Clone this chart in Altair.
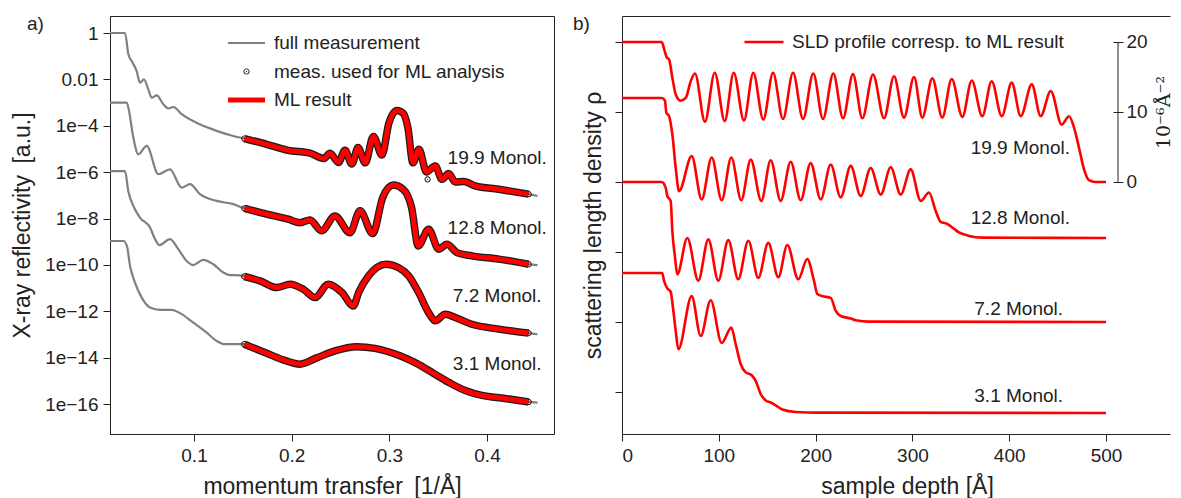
import altair as alt
import pandas as pd

FONT = "Liberation Sans"
INK = "#222222"

# ======================= panel a) : X-ray reflectivity =======================
# q = momentum transfer [1/Å]; L = log10 of the plotted (vertically offset) reflectivity
curve_names = ["19.9 Monol.", "12.8 Monol.", "7.2 Monol.", "3.1 Monol."]

# low-q part of the full measurement (grey)
a199_grey_q = [0.014, 0.0294, 0.0328, 0.0362, 0.0413, 0.0447, 0.0488, 0.0532, 0.0567, 0.0618, 0.0686, 0.0737, 0.0788, 0.0874, 0.1061, 0.1232, 0.1402]
a199_grey_L = [0.0, 0.0, -0.92, -1.21, -1.64, -2.14, -2.0, -2.43, -2.79, -2.69, -3.07, -3.25, -3.19, -3.5, -3.94, -4.22, -4.44]
a128_grey_q = [0.014, 0.0311, 0.0335, 0.0376, 0.043, 0.0516, 0.0635, 0.0754, 0.0874, 0.0959, 0.1061, 0.1232, 0.1402]
a128_grey_L = [-3.0, -3.0, -3.36, -4.44, -5.23, -4.87, -6.09, -5.88, -6.67, -6.52, -6.95, -7.24, -7.38]
a72_grey_q = [0.014, 0.0294, 0.0327, 0.0379, 0.0447, 0.055, 0.0601, 0.0646, 0.0754, 0.0839, 0.0925, 0.0993, 0.1095, 0.1198, 0.13, 0.1369, 0.1465]
a72_grey_L = [-5.96, -5.96, -6.81, -7.46, -7.96, -8.39, -8.89, -9.15, -8.89, -9.32, -9.83, -10.01, -9.78, -9.97, -10.33, -10.44, -10.45]
a31_grey_q = [0.014, 0.0278, 0.0313, 0.0345, 0.0396, 0.0465, 0.055, 0.0652, 0.0772, 0.0857, 0.0993, 0.113, 0.1232, 0.1317, 0.1465]
a31_grey_L = [-8.97, -8.97, -9.18, -10.04, -10.76, -11.41, -11.84, -11.94, -11.94, -12.08, -12.49, -12.92, -13.28, -13.42, -13.42]

# range used for the ML analysis (measured points and ML result)
a199_fit_q = [0.1515, 0.1744, 0.1962, 0.2187, 0.2331, 0.2392, 0.2479, 0.2546, 0.2617, 0.2679, 0.2753, 0.2837, 0.2924, 0.2996, 0.3078, 0.3144, 0.319, 0.3242, 0.3303, 0.338, 0.347, 0.3539, 0.3607, 0.3675, 0.3761, 0.3879, 0.4119, 0.4426]
a199_fit_L = [-4.55, -4.80, -5.06, -5.18, -5.41, -5.19, -5.58, -5.06, -5.65, -4.94, -5.60, -4.46, -5.26, -3.88, -3.34, -3.47, -4.09, -5.60, -5.01, -5.99, -5.73, -6.31, -6.06, -6.42, -6.40, -6.59, -6.74, -6.95]
a128_fit_q = [0.1515, 0.1744, 0.1965, 0.2085, 0.2187, 0.2307, 0.2443, 0.2597, 0.27, 0.283, 0.2932, 0.304, 0.3142, 0.3228, 0.3296, 0.3402, 0.3505, 0.359, 0.3692, 0.3845, 0.4119, 0.4426]
a128_fit_L = [-7.56, -7.81, -8.03, -8.18, -8.06, -8.53, -7.89, -8.61, -7.67, -8.65, -7.10, -6.56, -6.74, -7.53, -9.18, -8.46, -9.32, -9.11, -9.47, -9.61, -9.75, -9.97]
a72_fit_q = [0.1515, 0.1676, 0.1847, 0.1983, 0.2119, 0.2239, 0.2375, 0.2515, 0.2631, 0.2686, 0.2788, 0.2965, 0.3096, 0.3198, 0.33, 0.3402, 0.347, 0.3573, 0.3675, 0.3845, 0.4119, 0.4426]
a72_fit_L = [-10.50, -10.69, -10.98, -10.83, -11.05, -11.41, -10.83, -11.19, -11.77, -11.19, -10.47, -9.97, -10.12, -10.47, -11.19, -12.06, -12.41, -12.13, -12.27, -12.56, -12.77, -12.94]
a31_fit_q = [0.1515, 0.1744, 0.1931, 0.2085, 0.2256, 0.2443, 0.2666, 0.2853, 0.3108, 0.3279, 0.3446, 0.362, 0.3784, 0.3948, 0.4184, 0.4426]
a31_fit_L = [-13.42, -13.81, -14.12, -14.28, -14.01, -13.71, -13.53, -13.60, -13.92, -14.25, -14.66, -15.09, -15.43, -15.63, -15.76, -15.91]

# last point of the full measurement and a measured point off the fit
a_tail_q = 0.4518
a_tail_L = [-7.03, -10.01, -12.99, -15.94]
a199_extra_q = [0.3392]
a199_extra_L = [-6.31]

# curve labels
a_label_q = [0.4613, 0.4613, 0.4559, 0.4559]
a_label_L = [-5.39, -8.39, -11.34, -14.28]

a_xticks = [0.1, 0.2, 0.3, 0.4]
a_yticks = [1, 1e-2, 1e-4, 1e-6, 1e-8, 1e-10, 1e-12, 1e-14, 1e-16]
a_series = ["full measurement", "meas. used for ML analysis", "ML result"]

# ======================= panel b) : SLD profiles =======================
b_offsets = [0, -8, -20, -33]
b199_z = [0, 41, 44.1, 46.2, 48.6, 52, 55.5, 60.6, 65.8, 71, 75.4, 85.7, 95.8, 106.1, 115.4, 126, 135.6, 146, 156, 166.3, 176.7, 187, 197.6, 207.6, 218.3, 228.3, 238.6, 248.3, 259.3, 270.7, 281, 291.3, 301.7, 310.2, 320.6, 330.9, 340.6, 351.6, 361.3, 372.2, 381.9, 392.3, 402.6, 411.9, 423.3, 432.5, 442.9, 454.2, 461.8, 466.9, 472.1, 477.3, 482.4, 489, 500]
b199_v = [20, 20, 18.7, 17.8, 17.5, 14.9, 12.5, 11.6, 12.0, 14.4, 15.5, 8.6, 15.6, 8.7, 15.6, 8.8, 15.6, 8.9, 15.6, 9.0, 15.6, 9.0, 15.5, 9.0, 15.5, 9.1, 15.4, 9.1, 15.35, 9.1, 15.1, 9.2, 15.0, 9.2, 14.8, 9.2, 14.7, 9.3, 14.5, 9.4, 14.4, 9.4, 14.2, 9.4, 13.95, 9.4, 13.0, 8.2, 9.4, 7.8, 4.9, 1.8, 0.25, 0.0, 0.0]
b128_z = [0, 41, 44.4, 45.8, 48.6, 52, 55.5, 58.9, 72.0, 82.3, 92.7, 103.0, 112.9, 123.2, 133.0, 143.9, 153.6, 163.9, 174.3, 184.6, 194.9, 205.3, 215.6, 225.9, 236.3, 246.6, 256.9, 267.3, 277.6, 287.9, 298.2, 308.6, 317.1, 324, 329.2, 336, 341.2, 348.1, 358.5, 372.2, 500]
b128_v = [20, 20, 19.6, 17.9, 17.4, 14.8, 10.0, 6.7, 11.7, 5.5, 11.5, 5.4, 11.5, 5.4, 11.2, 5.3, 11.1, 5.3, 10.9, 5.4, 10.7, 5.5, 10.5, 5.8, 10.3, 6.0, 10.0, 6.2, 10.1, 6.2, 9.8, 5.3, 6.5, 3.9, 2.3, 2.0, 1.5, 0.8, 0.3, 0.05, 0.0]
b72_z = [0, 41, 45.1, 46.8, 50.3, 52, 54.8, 57.1, 67.5, 78.8, 89.2, 99.5, 109.8, 120.1, 130.5, 140.8, 151.1, 161.5, 170.8, 182.1, 191.4, 198.3, 201.8, 206.9, 215.6, 220.8, 225.9, 236.3, 241.4, 255.2, 500]
b72_v = [20, 20, 19.2, 18.0, 17.3, 13.0, 9.2, 6.8, 12.0, 5.9, 11.8, 5.9, 11.7, 6.1, 11.6, 6.3, 11.3, 6.4, 11.0, 6.1, 9.0, 5.9, 4.0, 3.7, 3.45, 1.6, 0.85, 0.5, 0.25, 0.05, 0.0]
b31_z = [0, 41.6, 43.4, 46.8, 50.3, 52.7, 55.5, 58.2, 72.0, 81.3, 91.6, 103.0, 112.9, 117.5, 122.6, 127.8, 134.0, 138.1, 143.3, 148.5, 153.6, 158.8, 165.6, 179.4, 203.5, 500]
b31_v = [20, 20, 18.9, 17.8, 17.3, 15.0, 11.7, 9.1, 16.7, 11.0, 16.1, 10.0, 12.2, 9.8, 7.0, 5.8, 5.4, 4.6, 2.7, 1.8, 1.5, 1.1, 0.5, 0.15, 0.05, 0.0]

b_label_z = [462.8, 462.8, 455.6, 455.6]
b_label_y = [4.9, -5.1, -18.19, -30.57]
b_xticks = [0, 100, 200, 300, 400, 500]
b_left_ticks = [-30, -20, -10, 0, 10, 20]
b_right_ticks = [0, 10, 20]
b_right_axis_span = [0, 20]
b_series = ["SLD profile corresp. to ML result"]

# ---------------------------------------------------------------- tables
grey_q = [a199_grey_q, a128_grey_q, a72_grey_q, a31_grey_q]
grey_L = [a199_grey_L, a128_grey_L, a72_grey_L, a31_grey_L]
fit_q = [a199_fit_q, a128_fit_q, a72_fit_q, a31_fit_q]
fit_L = [a199_fit_L, a128_fit_L, a72_fit_L, a31_fit_L]

full_rows, fit_rows, meas_rows = [], [], []
for i, name in enumerate(curve_names):
    for q, L in zip(grey_q[i] + fit_q[i] + [a_tail_q], grey_L[i] + fit_L[i] + [a_tail_L[i]]):
        full_rows.append({"q": q, "R": 10.0 ** L, "curve": name})
    for q, L in zip(fit_q[i], fit_L[i]):
        fit_rows.append({"q": q, "R": 10.0 ** L, "curve": name})
        meas_rows.append({"q": q, "R": 10.0 ** L, "curve": name, "series": a_series[1]})
for q, L in zip(a199_extra_q, a199_extra_L):
    meas_rows.append({"q": q, "R": 10.0 ** L, "curve": curve_names[0], "series": a_series[1]})

df_full = pd.DataFrame(full_rows)
df_fit = pd.DataFrame(fit_rows)
df_meas = pd.DataFrame(meas_rows)
df_alab = pd.DataFrame({"q": a_label_q, "R": [10.0 ** L for L in a_label_L], "t": curve_names})

sld_z = [b199_z, b128_z, b72_z, b31_z]
sld_v = [b199_v, b128_v, b72_v, b31_v]
sld_rows = []
for i, name in enumerate(curve_names):
    for z, v in zip(sld_z[i], sld_v[i]):
        sld_rows.append({"z": z, "y": v + b_offsets[i], "curve": name, "series": b_series[0]})
df_sld = pd.DataFrame(sld_rows)
df_blab = pd.DataFrame({"z": b_label_z, "y": b_label_y, "t": curve_names})
df_raxis = pd.DataFrame({"lo": [b_right_axis_span[0]], "hi": [b_right_axis_span[1]]})

# ---------------------------------------------------------------- panel a
AW, AH = 444, 418
ax_x = alt.X("q:Q", scale=alt.Scale(domain=[0.014, 0.4686], nice=False, zero=False),
             axis=alt.Axis(values=a_xticks, format=".1f", title="momentum transfer\u2002[1/Å]"))
ax_y = alt.Y("R:Q", scale=alt.Scale(type="log", domain=[5.1e-18, 5.41], nice=False),
             axis=alt.Axis(values=a_yticks, title="X-ray reflectivity\u2002[a.u.]",
                           labelExpr="datum.value > 0.5 ? '1' : (datum.value > 0.005 ? '0.01' : '1e\u2212' + round(-log(datum.value) / LN10))"))

RING = ("M-0.26,0A0.26,0.26 0 1,1 0.26,0A0.26,0.26 0 1,1 -0.26,0Z"
        "M-0.18,0A0.18,0.18 0 1,0 0.18,0A0.18,0.18 0 1,0 -0.18,0Z"
        "M-0.055,0A0.055,0.055 0 1,1 0.055,0A0.055,0.055 0 1,1 -0.055,0Z")
THIN = "M-1.54,-0.085H1.54V0.085H-1.54Z"
THICK = "M-1.54,-0.21H1.54V0.21H-1.54Z"

leg_a = alt.Legend(title=None, orient="none", legendX=124.5, legendY=15, symbolSize=576,
                   symbolStrokeWidth=0, labelFont=FONT, labelFontSize=19, labelColor=INK,
                   labelOffset=15.5, rowPadding=6.5, padding=0, labelLimit=0)

grey = alt.Chart(df_full).mark_line(color="#808080", strokeWidth=2.2, interpolate="monotone").encode(
    x=ax_x, y=ax_y, detail="curve:N")
halo = alt.Chart(df_fit).mark_line(color="#1c1c1c", strokeWidth=7.5, interpolate="monotone").encode(
    x="q:Q", y="R:Q", detail="curve:N")
meas = alt.Chart(df_meas).mark_point(filled=True, size=576, opacity=1).encode(
    x="q:Q", y="R:Q",
    color=alt.Color("series:N", scale=alt.Scale(domain=a_series, range=["#808080", "#1c1c1c", "#ff0000"]), legend=leg_a),
    shape=alt.Shape("series:N", scale=alt.Scale(domain=a_series, range=[THIN, RING, THICK]), legend=leg_a))
red = alt.Chart(df_fit).mark_line(color="#ff0000", strokeWidth=5, interpolate="monotone").encode(
    x="q:Q", y="R:Q", detail="curve:N")
alab = alt.Chart(df_alab).mark_text(align="right", baseline="middle", font=FONT, fontSize=19, color=INK).encode(
    x="q:Q", y="R:Q", text="t:N")
atag = alt.Chart(pd.DataFrame({"t": ["a)"]})).mark_text(align="left", baseline="top", font=FONT, fontSize=19, color=INK).encode(
    x=alt.value(-83), y=alt.value(-1), text="t:N")

panel_a = alt.layer(grey, halo, meas, red, alab, atag).properties(
    width=AW, height=AH, view=alt.ViewBackground(stroke=INK, strokeWidth=1))

# ---------------------------------------------------------------- panel b
BW, BH = 548, 418
b_scale_y = alt.Scale(domain=[-36, 23.71], nice=False, zero=False)
b_scale_x = alt.Scale(domain=[0, 566.1], nice=False, zero=False)

sld = alt.Chart(df_sld).mark_line(strokeWidth=2.6, interpolate="monotone").encode(
    x=alt.X("z:Q", scale=b_scale_x, axis=alt.Axis(values=b_xticks, title="sample depth [Å]", titleX=285)),
    y=alt.Y("y:Q", scale=b_scale_y, axis=alt.Axis(orient="left", values=b_left_ticks, labels=False,
                                                  title="scattering length density ρ", titlePadding=9)),
    detail="curve:N",
    color=alt.Color("series:N", scale=alt.Scale(domain=b_series, range=["#ff0000"]),
                    legend=alt.Legend(title=None, orient="none", legendX=121, legendY=5, symbolType="stroke",
                                      symbolSize=1521, symbolStrokeWidth=2.6, labelFont=FONT, labelFontSize=19,
                                      labelColor=INK, labelOffset=7, padding=0, labelLimit=0)))
blab = alt.Chart(df_blab).mark_text(align="right", baseline="middle", font=FONT, fontSize=19, color=INK).encode(
    x=alt.X("z:Q", scale=b_scale_x, axis=alt.Axis(orient="top", labels=False, ticks=False, domain=True, title=None)),
    y=alt.Y("y:Q", scale=b_scale_y, axis=alt.Axis(orient="right", offset=-57, values=b_right_ticks, tickSize=10,
                                                  domain=False, labelPadding=3, title="10⁻⁶Å⁻²",
                                                  titleFont="DejaVu Serif", titleFontSize=19, titleAngle=270,
                                                  titleX=50, titleY=96, titleBaseline="middle", titleAlign="center")),
    text="t:N")
raxis = alt.Chart(df_raxis).mark_rule(color=INK, strokeWidth=1).encode(
    x=alt.value(496), y=alt.Y("lo:Q", axis=None), y2="hi:Q")
btag = alt.Chart(pd.DataFrame({"t": ["b)"]})).mark_text(align="left", baseline="top", font=FONT, fontSize=19, color=INK).encode(
    x=alt.value(-49), y=alt.value(-1), text="t:N")

panel_b = alt.layer(sld, blab, raxis, btag).resolve_axis(x="independent", y="independent").properties(
    width=BW, height=BH)

chart = alt.hconcat(panel_a, panel_b, spacing=18).resolve_scale(
    color="independent", shape="independent").resolve_legend(color="independent", shape="independent").properties(
    padding={"left": 3, "top": 6, "right": 0, "bottom": 0}, background="white"
).configure_view(stroke=None).configure_axis(
    labelFont=FONT, labelFontSize=19, labelColor=INK, titleFont=FONT, titleFontSize=23,
    titleFontWeight="normal", titleColor=INK, tickColor=INK, domainColor=INK, tickSize=7,
    grid=False, labelPadding=5, titlePadding=10)

chart.save("out.html", embed_options={"renderer": "svg", "actions": False})
